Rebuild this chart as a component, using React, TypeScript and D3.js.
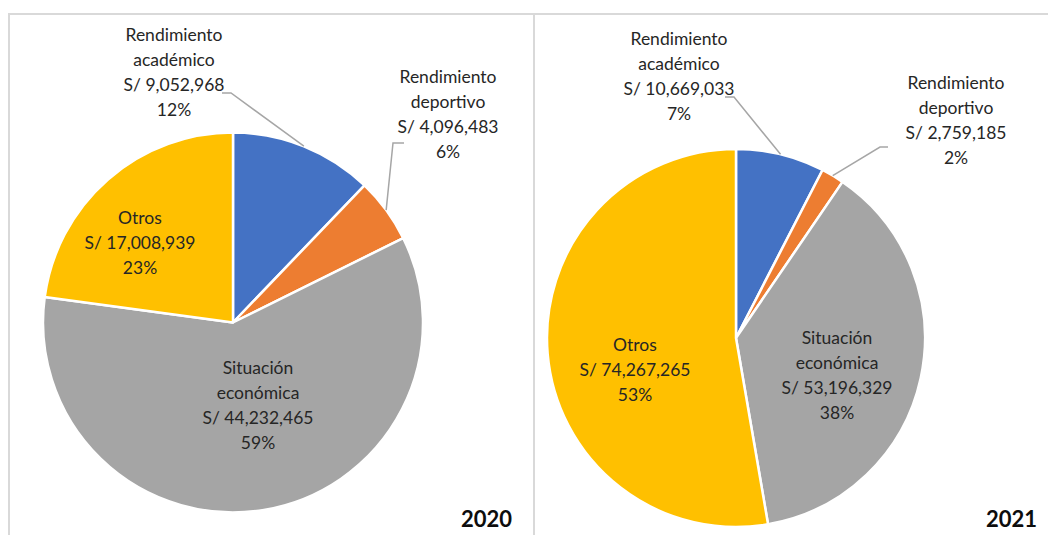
import React from "react";
import * as d3 from "d3";

const categories = ["Rendimiento académico", "Rendimiento deportivo", "Situación económica", "Otros"];
const labelLines = [["Rendimiento", "académico"], ["Rendimiento", "deportivo"], ["Situación", "económica"], ["Otros"]];
const values2020 = [9052968, 4096483, 44232465, 17008939];
const values2021 = [10669033, 2759185, 53196329, 74267265];
const pct2020 = ["12%", "6%", "59%", "23%"];
const pct2021 = ["7%", "2%", "38%", "53%"];
const years = ["2020", "2021"];
const colors = ["#4472C4", "#ED7D31", "#A5A5A5", "#FFC000"];

// layout
const W = 1048, H = 535;
const panels = [
  { cx: 233, cy: 322.5, r: 190, yearX: 512,
    labels: [
      { x: 174, y: 34, leader: [[222, 93], [231, 93]] },
      { x: 448, y: 76, leader: [[404, 143], [393, 143]] },
      { x: 258, y: 367, leader: null },
      { x: 140, y: 217, leader: null },
    ] },
  { cx: 736, cy: 338, r: 189, yearX: 1037,
    labels: [
      { x: 679, y: 38, leader: [[725, 97], [734, 97]] },
      { x: 956, y: 82, leader: [[888, 147], [880, 147]] },
      { x: 837, y: 337, leader: null },
      { x: 635, y: 344, leader: null },
    ] },
];
const lineH = 25;
const font = "Lato, 'Open Sans', sans-serif";
const fmt = (v: number) => "S/ " + d3.format(",")(v);

function Pie({ values, pcts, year, p }: any) {
  const pie = d3.pie<number>().sort(null).value((d) => d);
  const arcs = pie(values);
  const arc = d3.arc<d3.PieArcDatum<number>>().innerRadius(0).outerRadius(p.r);
  return (
    <g>
      <g transform={`translate(${p.cx},${p.cy})`}>
        {arcs.map((a, i) => (
          <path key={i} d={arc(a) || ""} fill={colors[i]} stroke="#fff" strokeWidth={2.5} strokeLinejoin="round" />
        ))}
      </g>
      {arcs.map((a, i) => {
        const l = p.labels[i];
        const lines = [...labelLines[i], fmt(values[i]), pcts[i]];
        let leader = null;
        if (l.leader) {
          const mid = (a.startAngle + a.endAngle) / 2;
          const ex = p.cx + p.r * Math.sin(mid);
          const ey = p.cy - p.r * Math.cos(mid);
          const pts = [...l.leader, [ex, ey]];
          leader = (
            <polyline points={pts.map((q: number[]) => q.join(",")).join(" ")} fill="none" stroke="#A6A6A6" strokeWidth={1.5} />
          );
        }
        return (
          <g key={i}>
            {leader}
            <text x={l.x} textAnchor="middle" fontFamily={font} fontSize={17.5} fill="#262626">
              {lines.map((t, k) => (
                <tspan key={k} x={l.x} y={l.y + k * lineH} dominantBaseline="central">{t}</tspan>
              ))}
            </text>
          </g>
        );
      })}
      <text x={p.yearX} y={527} textAnchor="end" fontFamily={font} fontWeight="bold" fontSize={22} fill="#0d0d0d">{year}</text>
    </g>
  );
}

export default function App() {
  return (
    <svg width={W} height={H} style={{ position: "absolute", left: 0, top: 0, background: "#fff" }}>
      <rect x={0} y={0} width={W} height={H} fill="#fff" />
      <line x1={8} x2={W} y1={14} y2={14} stroke="#D9D9D9" strokeWidth={2} />
      <line x1={9} x2={9} y1={14} y2={H} stroke="#D9D9D9" strokeWidth={2} />
      <line x1={534} x2={534} y1={14} y2={H} stroke="#D9D9D9" strokeWidth={2} />
      <Pie values={values2020} pcts={pct2020} year={years[0]} p={panels[0]} />
      <Pie values={values2021} pcts={pct2021} year={years[1]} p={panels[1]} />
    </svg>
  );
}
